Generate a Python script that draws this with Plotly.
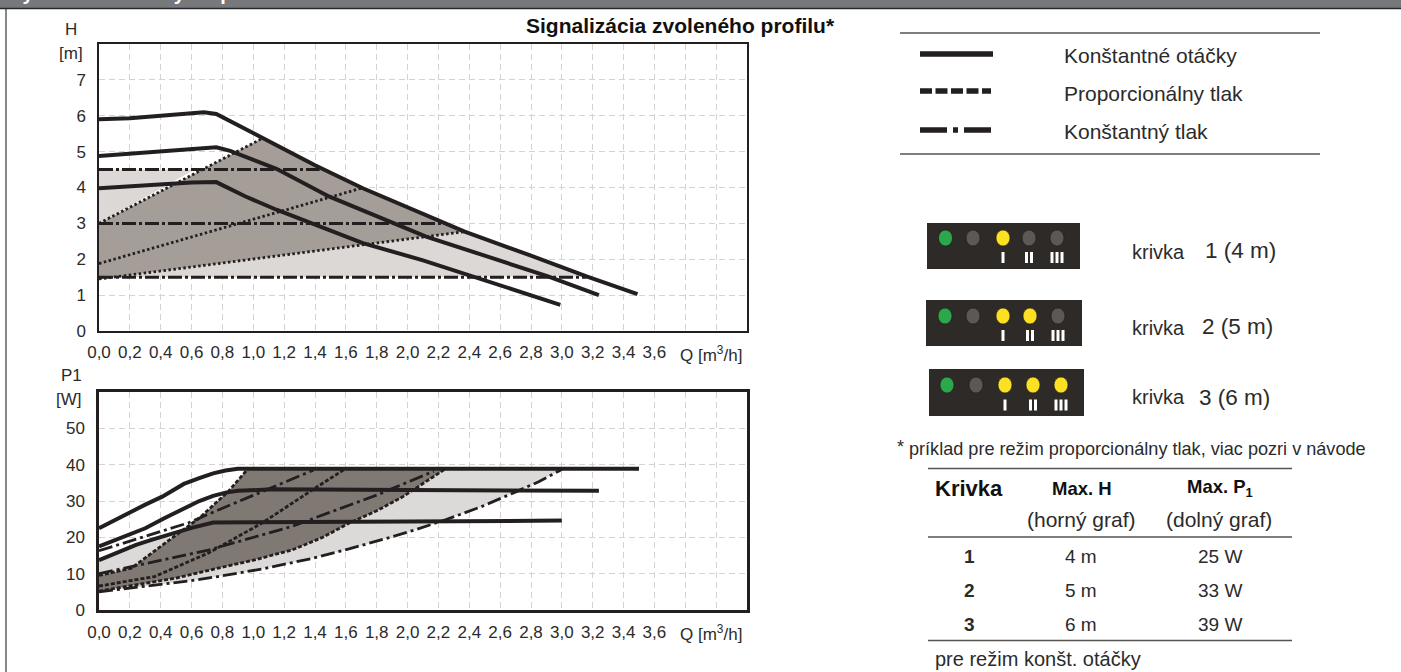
import plotly.graph_objects as go

W, H = 1401, 672

# ---------- data: upper chart (Q [m3/h], H [m]) ----------
h1_q = [0.0, 0.2, 0.4, 0.6, 0.76, 0.95, 1.15, 1.37, 1.55, 1.71, 2.1, 2.42, 2.7, 2.99]
h1_h = [3.98, 4.04, 4.09, 4.14, 4.15, 3.75, 3.38, 3.02, 2.7, 2.45, 1.97, 1.52, 1.12, 0.73]
h2_q = [0.0, 0.2, 0.4, 0.6, 0.76, 0.85, 1.15, 1.49, 1.87, 2.12, 2.5, 2.91, 3.24]
h2_h = [4.88, 4.94, 5.0, 5.07, 5.12, 5.02, 4.52, 3.75, 3.07, 2.63, 2.1, 1.52, 1.0]
h3_q = [0.0, 0.2, 0.4, 0.6, 0.68, 0.76, 1.06, 1.4, 1.71, 2.22, 2.37, 2.8, 3.16, 3.49]
h3_h = [5.9, 5.93, 6.0, 6.09, 6.1, 6.05, 5.38, 4.62, 3.98, 3.05, 2.77, 2.1, 1.52, 1.03]

h_cp_h = [4.5, 3.0, 1.5]
h_cp_q = [1.43, 2.22, 3.16]
h_pp_q = [1.05, 1.7, 2.37]
h_pp_start = [3.0, 1.88, 1.45]
h_pp_end = [5.35, 3.98, 2.77]

# ---------- data: lower chart (Q [m3/h], P1 [W]) ----------
p1_q = [0.0, 0.12, 0.24, 0.34, 0.44, 0.6, 0.74, 1.5, 3.0]
p1_p = [13.7, 15.8, 17.9, 19.3, 20.6, 22.6, 24.1, 24.3, 24.6]
p2_q = [0.0, 0.15, 0.3, 0.42, 0.55, 0.65, 0.74, 0.82, 0.9, 1.0, 1.12, 2.0, 3.24]
p2_p = [17.5, 20.0, 22.5, 25.2, 28.0, 30.0, 31.4, 32.3, 32.8, 33.1, 33.2, 33.0, 32.8]
p3_q = [0.0, 0.1, 0.2, 0.3, 0.41, 0.48, 0.55, 0.65, 0.74, 0.82, 0.9, 3.5]
p3_p = [22.5, 24.7, 27.0, 29.0, 31.2, 33.0, 34.7, 36.3, 37.6, 38.4, 38.9, 38.9]

pcp_top_q = [0.0, 0.58, 0.8, 1.06, 1.39]
pcp_top_p = [16.3, 24.0, 28.0, 32.7, 38.5]
pcp_mid_q = [0.0, 0.71, 1.25, 1.81, 2.17]
pcp_mid_p = [10.0, 16.5, 23.0, 31.8, 38.2]
pcp_low_q = [0.0, 0.2, 0.43, 0.6, 0.77, 1.07, 1.37, 1.62, 1.87, 2.06, 2.25, 2.47, 2.69, 2.85, 3.0]
pcp_low_p = [5.0, 6.0, 7.2, 8.1, 9.2, 11.4, 14.1, 16.8, 19.8, 22.2, 24.9, 28.3, 32.3, 35.3, 38.7]

ppp_top_q = [0.0, 0.21, 0.46, 0.65, 0.84, 0.96]
ppp_top_p = [9.5, 11.5, 19.4, 25.3, 32.7, 38.6]
ppp_mid_q = [0.0, 0.36, 0.71, 1.06, 1.37, 1.59]
ppp_mid_p = [6.6, 9.2, 15.7, 24.0, 32.7, 38.7]
ppp_low_q = [0.0, 0.3, 0.5, 0.77, 1.0, 1.25, 1.45, 1.62, 1.8, 1.97, 2.1, 2.24]
ppp_low_p = [5.2, 7.3, 8.8, 11.5, 13.7, 16.5, 20.0, 23.9, 27.3, 31.2, 34.8, 38.7]

q_ticks = [i * 0.2 for i in range(21)]
q_labels = [f"{v:.1f}".replace(".", ",") if i < 19 else "" for i, v in enumerate(q_ticks)]
h_ticks = [0, 1, 2, 3, 4, 5, 6, 7]
p_ticks = [0, 10, 20, 30, 40, 50]

# ---------- data: right-hand texts ----------
legend_labels = ["Konštantné otáčky", "Proporcionálny tlak", "Konštantný tlak"]
curve_labels = ["1 (4 m)", "2 (5 m)", "3 (6 m)"]
leds_lit = [1, 2, 3]
table_rows = [("1", "4 m", "25 W"), ("2", "5 m", "33 W"), ("3", "6 m", "39 W")]

INK = "#231f20"
TXT = "#2b2b2b"
DARK_H, LIGHT_H = "#a59d97", "#dcd8d5"
DARK_P, LIGHT_P = "#7f7873", "#dcdad8"
GRID = "#d6d3cf"
FONT = "Liberation Sans"

fig = go.Figure()


def line(q, v, ya, xa, width=4, dash="solid"):
    fig.add_trace(go.Scatter(x=q, y=v, xaxis=xa, yaxis=ya, mode="lines",
                             line=dict(color=INK, width=width, dash=dash),
                             hoverinfo="skip", showlegend=False))


def area(q, v, color, xa, ya):
    fig.add_trace(go.Scatter(x=q, y=v, xaxis=xa, yaxis=ya, mode="none", fill="toself",
                             fillcolor=color, hoverinfo="skip", showlegend=False))


# upper chart fills
i0 = h3_q.index(1.06)
i1 = h3_q.index(2.37)
i2 = h3_q.index(3.16)
area([0, 0.62, 0], [4.5, 4.5, 3.0], LIGHT_H, "x", "y")
area([0] + h3_q[i1:i2 + 1] + [0], [h_pp_start[2]] + h3_h[i1:i2 + 1] + [1.5], LIGHT_H, "x", "y")
area([0] + h3_q[i0:i1 + 1] + [0], [h_pp_start[0]] + h3_h[i0:i1 + 1] + [h_pp_start[2]], DARK_H, "x", "y")

# upper chart lines
for a, b, c in zip(h_pp_q, h_pp_start, h_pp_end):
    line([0, a], [b, c], "y", "x", width=2.8, dash="2.5px,2.5px")
for v, q in zip(h_cp_h, h_cp_q):
    line([0, q], [v, v], "y", "x", width=3, dash="14px,3px,3px,3px")
line(h1_q, h1_h, "y", "x")
line(h2_q, h2_h, "y", "x")
line(h3_q, h3_h, "y", "x")

# lower chart fills
area(p1_q[:5] + [ppp_top_q[2], ppp_top_q[1], 0], p1_p[:5] + [ppp_top_p[2], ppp_top_p[1], ppp_top_p[0]],
     LIGHT_P, "x2", "y2")
area(ppp_low_q[-1:] + [3.0] + pcp_low_q[::-1] + ppp_low_q[:-1],
     ppp_low_p[-1:] + [38.7] + pcp_low_p[::-1] + ppp_low_p[:-1], LIGHT_P, "x2", "y2")
area(ppp_top_q + ppp_low_q[::-1], ppp_top_p + ppp_low_p[::-1], DARK_P, "x2", "y2")

# lower chart lines
for q, v in ((pcp_top_q, pcp_top_p), (pcp_mid_q, pcp_mid_p), (pcp_low_q, pcp_low_p)):
    line(q, v, "y2", "x2", width=2.8, dash="14px,4px,3px,4px")
for q, v in ((ppp_top_q, ppp_top_p), (ppp_mid_q, ppp_mid_p), (ppp_low_q, ppp_low_p)):
    line(q, v, "y2", "x2", width=2.8, dash="4px,2px")
line(p1_q, p1_p, "y2", "x2")
line(p2_q, p2_p, "y2", "x2")
line(p3_q, p3_p, "y2", "x2")

common = dict(showline=True, linecolor=INK, mirror=True, zeroline=False, gridcolor=GRID, griddash="6px,4px",
              gridwidth=1, ticks="", tickfont=dict(family=FONT, size=17, color=TXT), layer="above traces")
xbase = dict(common, range=[0, 4.2], tickmode="array", ticktext=q_labels, tickvals=q_ticks, ticklabelstandoff=5)


def px_x(v):
    return v / W


def px_y(v):
    return 1 - v / H


fig.update_layout(
    width=W, height=H, margin=dict(l=0, r=0, t=0, b=0, autoexpand=False), paper_bgcolor="white", plot_bgcolor="white",
    xaxis=dict(xbase, domain=[px_x(99), px_x(747)], anchor="y", linewidth=1.5),
    yaxis=dict(common, domain=[px_y(331), px_y(44)], range=[0, 8], tickvals=h_ticks, linewidth=1.5, ticklabelstandoff=8),
    xaxis2=dict(xbase, domain=[px_x(99), px_x(747)], anchor="y2", linewidth=2.5),
    yaxis2=dict(common, domain=[px_y(610), px_y(392)], range=[0, 60], tickvals=p_ticks, anchor="x2", linewidth=2.5,
                ticklabelstandoff=8),
)
shapes = []


def rect(x0, y0, x1, y1, color):
    shapes.append(dict(type="rect", xref="paper", yref="paper", x0=px_x(x0), x1=px_x(x1), y0=px_y(y1), y1=px_y(y0),
                       fillcolor=color, line=dict(width=0), layer="above"))


def hline(x0, x1, y, width=1.3, color="#57534e", dash="solid"):
    shapes.append(dict(type="line", xref="paper", yref="paper", x0=px_x(x0), x1=px_x(x1), y0=px_y(y), y1=px_y(y),
                       line=dict(color=color, width=width, dash=dash), layer="above"))


def oval(cx, cy, rx, ry, color):
    shapes.append(dict(type="circle", xref="paper", yref="paper", x0=px_x(cx - rx), x1=px_x(cx + rx),
                       y0=px_y(cy + ry), y1=px_y(cy - ry), fillcolor=color,
                       line=dict(color="#1a1716", width=0.6), layer="above"))


anns = []


def text(x, y, s, size=16, anchor="left", bold=False, color=TXT):
    anns.append(dict(xref="paper", yref="paper", x=px_x(x), y=px_y(y), text=f"<b>{s}</b>" if bold else s,
                     showarrow=False, xanchor=anchor, yanchor="middle", borderpad=0, borderwidth=0,
                     font=dict(family=FONT, size=size, color=color)))


# page frame + header
rect(0, 0, W, 8, "#77787b")
hline(0, W, 8.5, width=1.4, color="#26282b")
shapes.append(dict(type="line", xref="paper", yref="paper", x0=px_x(6), x1=px_x(6), y0=0, y1=px_y(9),
                   line=dict(color="#3a3a3a", width=1.2), layer="above"))
text(8, -7.5, "Hydraulické krivky čerpadla", 20, bold=True, color="white")

# axis captions
text(65, 30, "H", 17)
text(59, 53, "[m]", 17)
text(61, 375, "P1", 17)
text(56, 399, "[W]", 17)
for y in (354, 633):
    text(680, y, "Q [m<sup>3</sup>/h]", 17)

text(526, 26, "Signalizácia zvoleného profilu*", 21, bold=True, color="#111111")

# line-style legend
hline(900, 1320, 33)
hline(900, 1320, 154)
leg_y = [54, 91, 130]
hline(920, 993, leg_y[0], width=5.5, color=INK)
hline(920, 991, leg_y[1], width=5.5, color=INK, dash="12px,3.5px")
hline(920, 991, leg_y[2], width=5.5, color=INK, dash="27px,6px,5px,6px")
for y, s in zip((55, 93, 132), legend_labels):
    text(1064, y, s, 21)

# LED panels
panels = [(927, 1080, 223, 269), (926, 1082, 300, 346), (929, 1084, 369, 416)]
led_x = [(945.5, 973, 1003, 1029, 1057), (945, 973, 1003, 1030, 1058), (947, 976, 1005, 1033, 1061)]
led_y = [238, 316, 385]
mark_y = [257.5, 335.5, 405]
krivka_y = [252, 328, 397]
curve_y = [250, 327, 397]
curve_x = [1205, 1202, 1199]
for p, xs, ly, my, ky, cy, cx, s, lit in zip(panels, led_x, led_y, mark_y, krivka_y, curve_y, curve_x, curve_labels,
                                             leds_lit):
    rect(p[0], p[2], p[1], p[3], "#2e2a28")
    oval(xs[0], ly, 7, 8, "#2ca84a")
    oval(xs[1], ly, 7, 8, "#5c5856")
    for k in range(3):
        oval(xs[2 + k], ly, 7, 8, "#fbe122" if k < lit else "#5c5856")
    for k, n in enumerate((1, 2, 3)):
        for j in range(n):
            bx = xs[2 + k] + (j - (n - 1) / 2) * 5
            rect(bx - 1.5, my - 5.5, bx + 1.5, my + 5.5, "white")
    text(1132, ky, "krivka", 20)
    text(cx, cy, s, 22.5)

# footnote + table
text(897, 447, "*", 18)
text(909, 449, "príklad pre režim proporcionálny tlak, viac pozri v návode", 18.1)
hline(928, 1292, 468.5)
hline(928, 1292, 537)
hline(928, 1292, 640.5)
text(935, 488, "Krivka", 22, bold=True, color="#111111")
text(1082, 488, "Max. H", 18.5, "center", bold=True, color="#111111")
text(1220, 488, "Max. P<sub>1</sub>", 18.5, "center", bold=True, color="#111111")
text(1081, 519, "(horný graf)", 21, "center")
text(1219, 519, "(dolný graf)", 21, "center")
for y, row in zip((556, 590, 624), table_rows):
    text(969, y, row[0], 19, "center", bold=True)
    text(1081, y, row[1], 19, "center")
    text(1220, y, row[2], 19, "center")
text(935, 659, "pre režim konšt. otáčky", 20)

fig.update_layout(shapes=shapes, annotations=anns)
fig.write_html("out.html", config=dict(displayModeBar=False),
               post_script="document.body.style.margin='0';")
